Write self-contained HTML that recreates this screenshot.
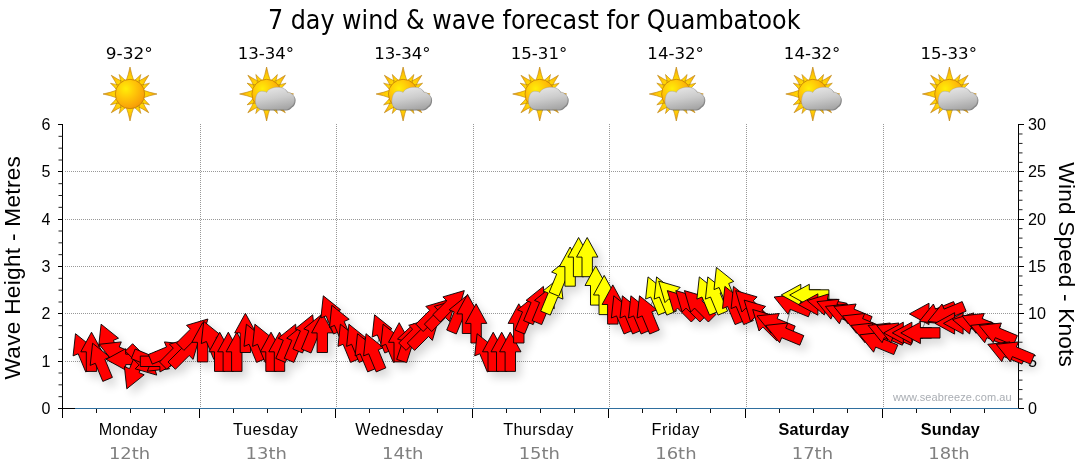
<!DOCTYPE html>
<html><head><meta charset="utf-8"><title>7 day wind &amp; wave forecast for Quambatook</title>
<style>
html,body{margin:0;padding:0;background:#fff;}
body{width:1080px;height:475px;overflow:hidden;}
svg{display:block;}
.ar{font-family:"Liberation Sans",sans-serif;}
.th{font-family:"DejaVu Sans Condensed","DejaVu Sans",sans-serif;}
.dv{font-family:"DejaVu Sans",sans-serif;}
</style></head><body>
<svg width="1080" height="475" viewBox="0 0 1080 475">
<defs>
<radialGradient id="sunG" cx="0.36" cy="0.32" r="0.78"><stop offset="0" stop-color="#ffee08"/><stop offset="0.4" stop-color="#ffc808"/><stop offset="0.8" stop-color="#f9a508"/><stop offset="1" stop-color="#ee9208"/></radialGradient>
<radialGradient id="rayG" gradientUnits="userSpaceOnUse" cx="0" cy="0" r="27"><stop offset="0.48" stop-color="#ffe000"/><stop offset="0.75" stop-color="#ffc408"/><stop offset="1" stop-color="#ee9812"/></radialGradient>
<linearGradient id="cloudG" x1="0.3" y1="0" x2="0.6" y2="1"><stop offset="0" stop-color="#e6e6e6"/><stop offset="0.5" stop-color="#cccccc"/><stop offset="1" stop-color="#a6a6a6"/></linearGradient>
<filter id="sh" x="-5%" y="-20%" width="110%" height="150%"><feGaussianBlur stdDeviation="5"/></filter>
<filter id="b1" x="-20%" y="-20%" width="140%" height="140%"><feGaussianBlur stdDeviation="0.6"/></filter>
<g id="sun"><path d="M13.00,3.90Q19.30,1.56 27.00,0.00Q19.30,-1.56 13.00,-3.90ZM6.43,11.95Q12.38,14.59 18.74,18.74Q14.59,12.38 11.95,6.43ZM9.87,9.01Q14.43,9.42 19.50,10.81Q15.63,7.25 12.87,3.59ZM3.59,12.87Q7.25,15.63 10.81,19.50Q9.42,14.43 9.01,9.87ZM-3.90,13.00Q-1.56,19.30 0.00,27.00Q1.56,19.30 3.90,13.00ZM-11.95,6.43Q-14.59,12.38 -18.74,18.74Q-12.38,14.59 -6.43,11.95ZM-9.01,9.87Q-9.42,14.43 -10.81,19.50Q-7.25,15.63 -3.59,12.87ZM-12.87,3.59Q-15.63,7.25 -19.50,10.81Q-14.43,9.42 -9.87,9.01ZM-13.00,-3.90Q-19.30,-1.56 -27.00,0.00Q-19.30,1.56 -13.00,3.90ZM-6.43,-11.95Q-12.38,-14.59 -18.74,-18.74Q-14.59,-12.38 -11.95,-6.43ZM-9.87,-9.01Q-14.43,-9.42 -19.50,-10.81Q-15.63,-7.25 -12.87,-3.59ZM-3.59,-12.87Q-7.25,-15.63 -10.81,-19.50Q-9.42,-14.43 -9.01,-9.87ZM3.90,-13.00Q1.56,-19.30 -0.00,-27.00Q-1.56,-19.30 -3.90,-13.00ZM11.95,-6.43Q14.59,-12.38 18.74,-18.74Q12.38,-14.59 6.43,-11.95ZM9.01,-9.87Q9.42,-14.43 10.81,-19.50Q7.25,-15.63 3.59,-12.87ZM12.87,-3.59Q15.63,-7.25 19.50,-10.81Q14.43,-9.42 9.87,-9.01Z" fill="url(#rayG)" stroke="#b8820c" stroke-width="0.6" stroke-linejoin="round"/><circle r="14.7" fill="url(#sunG)" stroke="#c47e06" stroke-width="0.8"/></g><g id="cloud"><path d="M-3.4,15.5 C-8.5,15.5 -11.4,11.5 -11.2,7 C-11,1 -8.5,-2.7 -5.2,-2.7 C-3,-2.7 -1,-2.5 0,-1.6 C2,-5.5 7,-6.9 11.7,-6.8 C16,-6.7 19.5,-5 20.8,-1.8 C22,-2 23.5,-1.5 24.5,-0.5 C27,1 28.3,3.5 28.1,5.8 C28,9 26.5,11.5 24.5,12.5 C23,14.5 21,15.5 19.2,15.5 Z" transform="translate(0.9,0.9)" fill="#5a5a5a" opacity="0.75" filter="url(#b1)"/><path d="M-3.4,15.5 C-8.5,15.5 -11.4,11.5 -11.2,7 C-11,1 -8.5,-2.7 -5.2,-2.7 C-3,-2.7 -1,-2.5 0,-1.6 C2,-5.5 7,-6.9 11.7,-6.8 C16,-6.7 19.5,-5 20.8,-1.8 C22,-2 23.5,-1.5 24.5,-0.5 C27,1 28.3,3.5 28.1,5.8 C28,9 26.5,11.5 24.5,12.5 C23,14.5 21,15.5 19.2,15.5 Z" fill="url(#cloudG)" stroke="#9a9a9a" stroke-width="0.4"/></g></defs>
<rect width="1080" height="475" fill="#fff"/>
<text class="th" x="268" y="29.3" font-size="25.8" textLength="532.5" lengthAdjust="spacingAndGlyphs" fill="#000">7 day wind &amp; wave forecast for Quambatook</text>
<text class="dv" x="129.3" y="58.9" font-size="16" text-anchor="middle" textLength="47.0" lengthAdjust="spacingAndGlyphs" fill="#000">9-32°</text>
<use href="#sun" x="130.0" y="94"/>
<text class="dv" x="265.9" y="58.9" font-size="16" text-anchor="middle" textLength="56.5" lengthAdjust="spacingAndGlyphs" fill="#000">13-34°</text>
<use href="#sun" x="266.6" y="94"/><use href="#cloud" x="266.6" y="94"/>
<text class="dv" x="402.4" y="58.9" font-size="16" text-anchor="middle" textLength="56.5" lengthAdjust="spacingAndGlyphs" fill="#000">13-34°</text>
<use href="#sun" x="403.1" y="94"/><use href="#cloud" x="403.1" y="94"/>
<text class="dv" x="539.0" y="58.9" font-size="16" text-anchor="middle" textLength="56.5" lengthAdjust="spacingAndGlyphs" fill="#000">15-31°</text>
<use href="#sun" x="539.7" y="94"/><use href="#cloud" x="539.7" y="94"/>
<text class="dv" x="675.6" y="58.9" font-size="16" text-anchor="middle" textLength="56.5" lengthAdjust="spacingAndGlyphs" fill="#000">14-32°</text>
<use href="#sun" x="676.3" y="94"/><use href="#cloud" x="676.3" y="94"/>
<text class="dv" x="812.1" y="58.9" font-size="16" text-anchor="middle" textLength="56.5" lengthAdjust="spacingAndGlyphs" fill="#000">14-32°</text>
<use href="#sun" x="812.8" y="94"/><use href="#cloud" x="812.8" y="94"/>
<text class="dv" x="948.7" y="58.9" font-size="16" text-anchor="middle" textLength="56.5" lengthAdjust="spacingAndGlyphs" fill="#000">15-33°</text>
<use href="#sun" x="949.4" y="94"/><use href="#cloud" x="949.4" y="94"/>
<g stroke="#989898" stroke-width="1" stroke-dasharray="1,1" shape-rendering="crispEdges"><line x1="64.5" y1="361.5" x2="1018.5" y2="361.5"/><line x1="64.5" y1="313.5" x2="1018.5" y2="313.5"/><line x1="64.5" y1="266.5" x2="1018.5" y2="266.5"/><line x1="64.5" y1="219.5" x2="1018.5" y2="219.5"/><line x1="64.5" y1="171.5" x2="1018.5" y2="171.5"/><line x1="200.5" y1="124.0" x2="200.5" y2="408.5"/><line x1="336.5" y1="124.0" x2="336.5" y2="408.5"/><line x1="473.5" y1="124.0" x2="473.5" y2="408.5"/><line x1="609.5" y1="124.0" x2="609.5" y2="408.5"/><line x1="746.5" y1="124.0" x2="746.5" y2="408.5"/><line x1="883.5" y1="124.0" x2="883.5" y2="408.5"/></g>
<g filter="url(#sh)" fill="#000" opacity="0.16" transform="translate(5,6)"><polygon points="75.5,333.7 92.9,347.7 87.8,349.8 95.3,367.9 85.7,371.9 78.2,353.8 73.1,355.9"/><polygon points="91.5,332.2 102.2,351.8 96.7,351.8 96.7,371.4 86.3,371.4 86.3,351.8 80.8,351.8"/><polygon points="92.6,343.2 110.0,357.2 104.9,359.3 112.4,377.4 102.8,381.4 95.3,363.3 90.2,365.4"/><polygon points="101.1,324.2 118.5,338.2 113.4,340.3 120.9,358.4 111.3,362.4 103.8,344.3 98.7,346.4"/><polygon points="99.1,344.3 121.3,341.9 119.2,347.0 137.3,354.5 133.3,364.1 115.2,356.6 113.1,361.7"/><polygon points="106.1,359.4 125.7,348.7 125.7,354.2 145.3,354.2 145.3,364.6 125.7,364.6 125.7,370.1"/><polygon points="126.8,388.8 124.4,366.6 129.5,368.7 137.0,350.6 146.6,354.6 139.1,372.7 144.2,374.8"/><polygon points="156.7,375.1 135.2,368.8 139.1,364.9 125.3,351.1 132.6,343.7 146.5,357.6 150.4,353.7"/><polygon points="169.5,368.8 147.3,371.2 149.4,366.1 131.3,358.6 135.2,349.0 153.3,356.5 155.5,351.4"/><polygon points="179.5,361.3 159.9,372.0 159.9,366.5 140.3,366.5 140.3,356.1 159.9,356.1 159.9,350.6"/><polygon points="186.6,344.3 172.5,361.7 170.4,356.6 152.3,364.1 148.4,354.5 166.5,347.0 164.4,341.9"/><polygon points="190.9,337.9 184.6,359.4 180.7,355.5 166.8,369.3 159.5,362.0 173.3,348.1 169.4,344.2"/><polygon points="199.4,337.9 193.1,359.4 189.2,355.5 175.4,369.3 168.0,362.0 181.9,348.1 178.0,344.2"/><polygon points="207.9,319.0 201.7,340.4 197.8,336.5 183.9,350.4 176.5,343.0 190.4,329.2 186.5,325.3"/><polygon points="202.6,322.7 213.3,342.3 207.8,342.3 207.8,361.9 197.4,361.9 197.4,342.3 191.9,342.3"/><polygon points="203.7,321.4 221.1,335.4 216.0,337.5 223.5,355.6 213.9,359.6 206.4,341.5 201.3,343.6"/><polygon points="219.7,332.2 230.4,351.8 224.9,351.8 224.9,371.4 214.5,371.4 214.5,351.8 209.0,351.8"/><polygon points="228.3,332.2 239.0,351.8 233.5,351.8 233.5,371.4 223.1,371.4 223.1,351.8 217.6,351.8"/><polygon points="236.8,332.2 247.5,351.8 242.0,351.8 242.0,371.4 231.6,371.4 231.6,351.8 226.1,351.8"/><polygon points="245.4,313.3 256.1,332.9 250.6,332.9 250.6,352.5 240.2,352.5 240.2,332.9 234.7,332.9"/><polygon points="246.4,324.2 263.8,338.2 258.7,340.3 266.2,358.4 256.6,362.4 249.1,344.3 244.0,346.4"/><polygon points="254.9,324.2 272.3,338.2 267.2,340.3 274.7,358.4 265.1,362.4 257.6,344.3 252.6,346.4"/><polygon points="271.0,332.2 281.7,351.8 276.2,351.8 276.2,371.4 265.8,371.4 265.8,351.8 260.3,351.8"/><polygon points="279.5,332.2 290.2,351.8 284.7,351.8 284.7,371.4 274.3,371.4 274.3,351.8 268.8,351.8"/><polygon points="295.6,324.2 298.0,346.4 292.9,344.3 285.4,362.4 275.8,358.4 283.3,340.3 278.2,338.2"/><polygon points="304.1,324.2 306.5,346.4 301.4,344.3 293.9,362.4 284.3,358.4 291.8,340.3 286.7,338.2"/><polygon points="312.7,314.8 315.1,337.0 310.0,334.9 302.5,353.0 292.9,349.0 300.4,330.9 295.3,328.8"/><polygon points="321.2,314.8 323.6,337.0 318.5,334.9 311.0,353.0 301.4,349.0 308.9,330.9 303.8,328.8"/><polygon points="322.3,313.3 333.0,332.9 327.5,332.9 327.5,352.5 317.1,352.5 317.1,332.9 311.6,332.9"/><polygon points="323.3,295.8 340.7,309.8 335.6,311.9 343.1,330.0 333.5,334.0 326.0,315.9 320.9,318.0"/><polygon points="331.8,305.3 349.2,319.3 344.2,321.4 351.7,339.5 342.0,343.5 334.5,325.4 329.5,327.5"/><polygon points="340.4,324.2 357.8,338.2 352.7,340.3 360.2,358.4 350.6,362.4 343.1,344.3 338.0,346.4"/><polygon points="348.9,324.2 366.3,338.2 361.2,340.3 368.7,358.4 359.1,362.4 351.6,344.3 346.6,346.4"/><polygon points="357.5,333.7 374.9,347.7 369.8,349.8 377.3,367.9 367.7,371.9 360.2,353.8 355.1,355.9"/><polygon points="366.0,333.7 383.4,347.7 378.3,349.8 385.8,367.9 376.2,371.9 368.7,353.8 363.6,355.9"/><polygon points="374.6,314.8 392.0,328.8 386.9,330.9 394.4,349.0 384.8,353.0 377.3,334.9 372.2,337.0"/><polygon points="383.1,324.2 400.5,338.2 395.4,340.3 402.9,358.4 393.3,362.4 385.8,344.3 380.7,346.4"/><polygon points="399.2,322.7 409.9,342.3 404.4,342.3 404.4,361.9 394.0,361.9 394.0,342.3 388.5,342.3"/><polygon points="413.8,323.7 417.9,345.6 412.7,343.9 406.6,362.6 396.7,359.4 402.8,340.7 397.5,339.0"/><polygon points="430.1,319.0 423.8,340.4 419.9,336.5 406.1,350.4 398.7,343.0 412.6,329.2 408.7,325.3"/><polygon points="438.7,319.0 432.4,340.4 428.5,336.5 414.6,350.4 407.3,343.0 421.1,329.2 417.2,325.3"/><polygon points="447.2,300.1 440.9,321.5 437.0,317.6 423.2,331.5 415.8,324.1 429.7,310.3 425.8,306.4"/><polygon points="455.7,300.1 449.5,321.5 445.6,317.6 431.7,331.5 424.4,324.1 438.2,310.3 434.3,306.4"/><polygon points="464.3,290.6 458.0,312.0 454.1,308.1 440.3,322.0 432.9,314.6 446.8,300.8 442.9,296.9"/><polygon points="466.5,295.8 468.9,318.0 463.8,315.9 456.3,334.0 446.7,330.0 454.2,311.9 449.1,309.8"/><polygon points="467.5,294.3 478.2,313.9 472.7,313.9 472.7,333.5 462.3,333.5 462.3,313.9 456.8,313.9"/><polygon points="476.1,303.8 486.8,323.4 481.3,323.4 481.3,343.0 470.9,343.0 470.9,323.4 465.4,323.4"/><polygon points="477.1,333.7 494.5,347.7 489.4,349.8 496.9,367.9 487.3,371.9 479.8,353.8 474.7,355.9"/><polygon points="493.2,332.2 503.9,351.8 498.4,351.8 498.4,371.4 488.0,371.4 488.0,351.8 482.5,351.8"/><polygon points="501.7,332.2 512.4,351.8 506.9,351.8 506.9,371.4 496.5,371.4 496.5,351.8 491.0,351.8"/><polygon points="510.2,332.2 521.0,351.8 515.5,351.8 515.5,371.4 505.1,371.4 505.1,351.8 499.6,351.8"/><polygon points="518.8,303.8 529.5,323.4 524.0,323.4 524.0,343.0 513.6,343.0 513.6,323.4 508.1,323.4"/><polygon points="534.8,295.8 537.2,318.0 532.1,315.9 524.6,334.0 515.0,330.0 522.5,311.9 517.5,309.8"/><polygon points="543.4,286.4 545.8,308.6 540.7,306.5 533.2,324.6 523.6,320.6 531.1,302.5 526.0,300.4"/><polygon points="551.9,286.4 554.3,308.6 549.2,306.5 541.7,324.6 532.1,320.6 539.6,302.5 534.5,300.4"/><polygon points="560.5,276.9 562.9,299.1 557.8,297.0 550.3,315.1 540.7,311.1 548.2,293.0 543.1,290.9"/><polygon points="569.0,258.0 571.4,280.2 566.3,278.1 558.8,296.2 549.2,292.2 556.7,274.1 551.6,272.0"/><polygon points="570.1,247.0 580.8,266.6 575.3,266.6 575.3,286.2 564.9,286.2 564.9,266.6 559.4,266.6"/><polygon points="578.6,237.5 589.3,257.1 583.8,257.1 583.8,276.7 573.4,276.7 573.4,257.1 567.9,257.1"/><polygon points="587.2,237.5 597.9,257.1 592.4,257.1 592.4,276.7 582.0,276.7 582.0,257.1 576.5,257.1"/><polygon points="595.7,265.9 606.4,285.5 600.9,285.5 600.9,305.1 590.5,305.1 590.5,285.5 585.0,285.5"/><polygon points="604.2,275.4 614.9,295.0 609.4,295.0 609.4,314.6 599.0,314.6 599.0,295.0 593.5,295.0"/><polygon points="612.8,284.9 623.5,304.5 618.0,304.5 618.0,324.1 607.6,324.1 607.6,304.5 602.1,304.5"/><polygon points="613.8,295.8 631.2,309.8 626.1,311.9 633.6,330.0 624.0,334.0 616.5,315.9 611.4,318.0"/><polygon points="622.4,295.8 639.8,309.8 634.7,311.9 642.2,330.0 632.6,334.0 625.1,315.9 620.0,318.0"/><polygon points="630.9,295.8 648.3,309.8 643.2,311.9 650.7,330.0 641.1,334.0 633.6,315.9 628.5,318.0"/><polygon points="639.5,295.8 656.9,309.8 651.8,311.9 659.3,330.0 649.7,334.0 642.2,315.9 637.1,318.0"/><polygon points="648.0,276.9 665.4,290.9 660.3,293.0 667.8,311.1 658.2,315.1 650.7,297.0 645.6,299.1"/><polygon points="656.6,276.9 673.9,290.9 668.9,293.0 676.4,311.1 666.8,315.1 659.3,297.0 654.2,299.1"/><polygon points="658.7,281.1 680.2,287.4 676.3,291.3 690.1,305.2 682.8,312.5 668.9,298.7 665.0,302.6"/><polygon points="667.3,290.6 688.7,296.9 684.8,300.8 698.7,314.6 691.3,322.0 677.5,308.1 673.6,312.0"/><polygon points="675.8,290.6 697.3,296.9 693.4,300.8 707.2,314.6 699.9,322.0 686.0,308.1 682.1,312.0"/><polygon points="684.4,290.6 705.8,296.9 701.9,300.8 715.8,314.6 708.4,322.0 694.6,308.1 690.7,312.0"/><polygon points="699.3,276.9 716.7,290.9 711.6,293.0 719.1,311.1 709.5,315.1 702.0,297.0 696.9,299.1"/><polygon points="707.8,276.9 725.2,290.9 720.1,293.0 727.6,311.1 718.0,315.1 710.5,297.0 705.4,299.1"/><polygon points="716.4,267.4 733.8,281.4 728.7,283.5 736.2,301.6 726.6,305.6 719.1,287.5 714.0,289.6"/><polygon points="724.9,286.4 742.3,300.4 737.2,302.5 744.7,320.6 735.1,324.6 727.6,306.5 722.5,308.6"/><polygon points="733.5,286.4 750.9,300.4 745.8,302.5 753.3,320.6 743.7,324.6 736.2,306.5 731.1,308.6"/><polygon points="735.7,290.6 757.1,296.9 753.2,300.8 767.0,314.6 759.7,322.0 745.8,308.1 741.9,312.0"/><polygon points="744.2,300.1 765.6,306.4 761.7,310.3 775.6,324.1 768.2,331.5 754.4,317.6 750.5,321.5"/><polygon points="752.7,309.5 774.2,315.8 770.3,319.7 784.1,333.6 776.8,340.9 762.9,327.1 759.0,331.0"/><polygon points="757.0,315.9 779.2,313.5 777.1,318.6 795.2,326.1 791.3,335.7 773.2,328.2 771.1,333.3"/><polygon points="765.6,325.4 787.8,323.0 785.7,328.1 803.8,335.6 799.8,345.2 781.7,337.7 779.6,342.7"/><polygon points="774.1,297.0 796.3,294.6 794.2,299.7 812.3,307.2 808.4,316.8 790.2,309.3 788.1,314.3"/><polygon points="781.2,295.0 800.8,284.3 800.8,289.8 820.4,289.8 820.4,300.2 800.8,300.2 800.8,305.7"/><polygon points="789.7,295.0 809.3,284.3 809.3,289.8 828.9,289.8 828.9,300.2 809.3,300.2 809.3,305.7"/><polygon points="798.3,304.5 817.9,293.8 817.9,299.3 837.5,299.3 837.5,309.7 817.9,309.7 817.9,315.2"/><polygon points="807.2,300.6 828.5,294.0 827.4,299.4 846.7,303.2 844.6,313.4 825.4,309.6 824.3,315.0"/><polygon points="816.9,301.7 839.1,299.3 836.9,304.4 855.1,311.9 851.1,321.5 833.0,314.0 830.9,319.1"/><polygon points="825.4,306.4 847.6,304.0 845.5,309.1 863.6,316.6 859.6,326.2 841.5,318.7 839.4,323.8"/><polygon points="833.9,306.4 856.1,304.0 854.0,309.1 872.1,316.6 868.2,326.2 850.1,318.7 848.0,323.8"/><polygon points="842.5,315.9 864.7,313.5 862.6,318.6 880.7,326.1 876.7,335.7 858.6,328.2 856.5,333.3"/><polygon points="851.0,325.4 873.2,323.0 871.1,328.1 889.2,335.6 885.3,345.2 867.2,337.7 865.0,342.7"/><polygon points="859.6,334.8 881.8,332.4 879.7,337.5 897.8,345.0 893.8,354.6 875.7,347.1 873.6,352.2"/><polygon points="868.1,325.4 890.3,323.0 888.2,328.1 906.3,335.6 902.3,345.2 884.2,337.7 882.1,342.7"/><polygon points="876.7,325.4 898.9,323.0 896.8,328.1 914.9,335.6 910.9,345.2 892.8,337.7 890.7,342.7"/><polygon points="883.7,332.9 903.3,322.2 903.3,327.7 922.9,327.7 922.9,338.1 903.3,338.1 903.3,343.6"/><polygon points="892.3,332.9 911.9,322.2 911.9,327.7 931.5,327.7 931.5,338.1 911.9,338.1 911.9,343.6"/><polygon points="900.8,332.9 920.4,322.2 920.4,327.7 940.0,327.7 940.0,338.1 920.4,338.1 920.4,343.6"/><polygon points="909.4,313.9 929.0,303.2 929.0,308.7 948.6,308.7 948.6,319.1 929.0,319.1 929.0,324.6"/><polygon points="919.4,321.4 933.4,304.0 935.5,309.1 953.6,301.6 957.6,311.2 939.5,318.7 941.6,323.8"/><polygon points="927.9,321.4 942.0,304.0 944.1,309.1 962.2,301.6 966.1,311.2 948.0,318.7 950.1,323.8"/><polygon points="935.0,323.4 954.6,312.7 954.6,318.2 974.2,318.2 974.2,328.6 954.6,328.6 954.6,334.1"/><polygon points="943.5,323.4 963.1,312.7 963.1,318.2 982.7,318.2 982.7,328.6 963.1,328.6 963.1,334.1"/><polygon points="952.5,319.6 973.8,312.9 972.7,318.3 991.9,322.1 989.9,332.3 970.7,328.5 969.6,333.9"/><polygon points="962.1,315.9 984.3,313.5 982.2,318.6 1000.3,326.1 996.3,335.7 978.2,328.2 976.1,333.3"/><polygon points="970.7,325.4 992.9,323.0 990.8,328.1 1008.9,335.6 1004.9,345.2 986.8,337.7 984.7,342.7"/><polygon points="979.2,325.4 1001.4,323.0 999.3,328.1 1017.4,335.6 1013.4,345.2 995.3,337.7 993.2,342.7"/><polygon points="987.8,344.3 1010.0,341.9 1007.8,347.0 1026.0,354.5 1022.0,364.1 1003.9,356.6 1001.8,361.7"/><polygon points="996.3,344.3 1018.5,341.9 1016.4,347.0 1034.5,354.5 1030.5,364.1 1012.4,356.6 1010.3,361.7"/></g>
<g stroke="#000" stroke-width="1" shape-rendering="crispEdges"><line x1="62.5" y1="124.0" x2="62.5" y2="409.0"/><line x1="1018.5" y1="124.0" x2="1018.5" y2="409.0"/><line x1="57.5" y1="408.5" x2="1023.5" y2="408.5"/><line x1="57.5" y1="408.5" x2="62.5" y2="408.5"/><line x1="1018.5" y1="408.5" x2="1023.5" y2="408.5"/><line x1="57.5" y1="361.5" x2="62.5" y2="361.5"/><line x1="1018.5" y1="361.5" x2="1023.5" y2="361.5"/><line x1="57.5" y1="313.5" x2="62.5" y2="313.5"/><line x1="1018.5" y1="313.5" x2="1023.5" y2="313.5"/><line x1="57.5" y1="266.5" x2="62.5" y2="266.5"/><line x1="1018.5" y1="266.5" x2="1023.5" y2="266.5"/><line x1="57.5" y1="219.5" x2="62.5" y2="219.5"/><line x1="1018.5" y1="219.5" x2="1023.5" y2="219.5"/><line x1="57.5" y1="171.5" x2="62.5" y2="171.5"/><line x1="1018.5" y1="171.5" x2="1023.5" y2="171.5"/><line x1="57.5" y1="124.5" x2="62.5" y2="124.5"/><line x1="1018.5" y1="124.5" x2="1023.5" y2="124.5"/><line x1="62.5" y1="408.5" x2="62.5" y2="417.5"/><line x1="199.5" y1="408.5" x2="199.5" y2="417.5"/><line x1="335.5" y1="408.5" x2="335.5" y2="417.5"/><line x1="472.5" y1="408.5" x2="472.5" y2="417.5"/><line x1="608.5" y1="408.5" x2="608.5" y2="417.5"/><line x1="745.5" y1="408.5" x2="745.5" y2="417.5"/><line x1="882.5" y1="408.5" x2="882.5" y2="417.5"/></g>
<g stroke="#222" stroke-width="1"><line x1="58.5" y1="396.67" x2="62.5" y2="396.67"/><line x1="58.5" y1="384.83" x2="62.5" y2="384.83"/><line x1="58.5" y1="373.00" x2="62.5" y2="373.00"/><line x1="58.5" y1="349.33" x2="62.5" y2="349.33"/><line x1="58.5" y1="337.50" x2="62.5" y2="337.50"/><line x1="58.5" y1="325.67" x2="62.5" y2="325.67"/><line x1="58.5" y1="302.00" x2="62.5" y2="302.00"/><line x1="58.5" y1="290.17" x2="62.5" y2="290.17"/><line x1="58.5" y1="278.33" x2="62.5" y2="278.33"/><line x1="58.5" y1="254.67" x2="62.5" y2="254.67"/><line x1="58.5" y1="242.83" x2="62.5" y2="242.83"/><line x1="58.5" y1="231.00" x2="62.5" y2="231.00"/><line x1="58.5" y1="207.33" x2="62.5" y2="207.33"/><line x1="58.5" y1="195.50" x2="62.5" y2="195.50"/><line x1="58.5" y1="183.67" x2="62.5" y2="183.67"/><line x1="58.5" y1="160.00" x2="62.5" y2="160.00"/><line x1="58.5" y1="148.17" x2="62.5" y2="148.17"/><line x1="58.5" y1="136.33" x2="62.5" y2="136.33"/><line x1="1018.5" y1="399.03" x2="1022.5" y2="399.03"/><line x1="1018.5" y1="389.57" x2="1022.5" y2="389.57"/><line x1="1018.5" y1="380.10" x2="1022.5" y2="380.10"/><line x1="1018.5" y1="370.63" x2="1022.5" y2="370.63"/><line x1="1018.5" y1="351.70" x2="1022.5" y2="351.70"/><line x1="1018.5" y1="342.23" x2="1022.5" y2="342.23"/><line x1="1018.5" y1="332.77" x2="1022.5" y2="332.77"/><line x1="1018.5" y1="323.30" x2="1022.5" y2="323.30"/><line x1="1018.5" y1="304.37" x2="1022.5" y2="304.37"/><line x1="1018.5" y1="294.90" x2="1022.5" y2="294.90"/><line x1="1018.5" y1="285.43" x2="1022.5" y2="285.43"/><line x1="1018.5" y1="275.97" x2="1022.5" y2="275.97"/><line x1="1018.5" y1="257.03" x2="1022.5" y2="257.03"/><line x1="1018.5" y1="247.57" x2="1022.5" y2="247.57"/><line x1="1018.5" y1="238.10" x2="1022.5" y2="238.10"/><line x1="1018.5" y1="228.63" x2="1022.5" y2="228.63"/><line x1="1018.5" y1="209.70" x2="1022.5" y2="209.70"/><line x1="1018.5" y1="200.23" x2="1022.5" y2="200.23"/><line x1="1018.5" y1="190.77" x2="1022.5" y2="190.77"/><line x1="1018.5" y1="181.30" x2="1022.5" y2="181.30"/><line x1="1018.5" y1="162.37" x2="1022.5" y2="162.37"/><line x1="1018.5" y1="152.90" x2="1022.5" y2="152.90"/><line x1="1018.5" y1="143.43" x2="1022.5" y2="143.43"/><line x1="1018.5" y1="133.97" x2="1022.5" y2="133.97"/></g>
<g stroke="#111" stroke-width="1" shape-rendering="crispEdges"><line x1="96.5" y1="408.5" x2="96.5" y2="413.0"/><line x1="130.5" y1="408.5" x2="130.5" y2="413.0"/><line x1="164.5" y1="408.5" x2="164.5" y2="413.0"/><line x1="233.5" y1="408.5" x2="233.5" y2="413.0"/><line x1="267.5" y1="408.5" x2="267.5" y2="413.0"/><line x1="301.5" y1="408.5" x2="301.5" y2="413.0"/><line x1="369.5" y1="408.5" x2="369.5" y2="413.0"/><line x1="403.5" y1="408.5" x2="403.5" y2="413.0"/><line x1="437.5" y1="408.5" x2="437.5" y2="413.0"/><line x1="506.5" y1="408.5" x2="506.5" y2="413.0"/><line x1="540.5" y1="408.5" x2="540.5" y2="413.0"/><line x1="574.5" y1="408.5" x2="574.5" y2="413.0"/><line x1="642.5" y1="408.5" x2="642.5" y2="413.0"/><line x1="676.5" y1="408.5" x2="676.5" y2="413.0"/><line x1="710.5" y1="408.5" x2="710.5" y2="413.0"/><line x1="779.5" y1="408.5" x2="779.5" y2="413.0"/><line x1="813.5" y1="408.5" x2="813.5" y2="413.0"/><line x1="847.5" y1="408.5" x2="847.5" y2="413.0"/><line x1="916.5" y1="408.5" x2="916.5" y2="413.0"/><line x1="950.5" y1="408.5" x2="950.5" y2="413.0"/><line x1="984.5" y1="408.5" x2="984.5" y2="413.0"/></g>
<line x1="75" y1="408.5" x2="1018.5" y2="408.5" stroke="#2f6f9f" stroke-width="1.2"/>
<text class="ar" x="50.3" y="413.9" font-size="16" text-anchor="end">0</text><text class="ar" x="1028" y="413.9" font-size="16.2">0</text><text class="ar" x="50.3" y="366.6" font-size="16" text-anchor="end">1</text><text class="ar" x="1028" y="366.6" font-size="16.2">5</text><text class="ar" x="50.3" y="319.2" font-size="16" text-anchor="end">2</text><text class="ar" x="1028" y="319.2" font-size="16.2">10</text><text class="ar" x="50.3" y="271.9" font-size="16" text-anchor="end">3</text><text class="ar" x="1028" y="271.9" font-size="16.2">15</text><text class="ar" x="50.3" y="224.6" font-size="16" text-anchor="end">4</text><text class="ar" x="1028" y="224.6" font-size="16.2">20</text><text class="ar" x="50.3" y="177.2" font-size="16" text-anchor="end">5</text><text class="ar" x="1028" y="177.2" font-size="16.2">25</text><text class="ar" x="50.3" y="129.9" font-size="16" text-anchor="end">6</text><text class="ar" x="1028" y="129.9" font-size="16.2">30</text>
<text class="ar" font-size="22.67" text-anchor="middle" textLength="223.5" lengthAdjust="spacing" transform="translate(20.3,267.8) rotate(-90)">Wave Height - Metres</text>
<text class="ar" font-size="22.67" text-anchor="middle" textLength="204.5" lengthAdjust="spacing" transform="translate(1058.8,264.6) rotate(90)">Wind Speed - Knots</text>
<text class="ar" x="128.1" y="434.6" font-size="16.2" text-anchor="middle" textLength="58.6" lengthAdjust="spacing">Monday</text><text class="dv" x="129.6" y="458.5" font-size="16.2" text-anchor="middle" textLength="41.3" lengthAdjust="spacingAndGlyphs" fill="#808080">12th</text>
<text class="ar" x="265.5" y="434.6" font-size="16.2" text-anchor="middle" textLength="64.9" lengthAdjust="spacing">Tuesday</text><text class="dv" x="266.2" y="458.5" font-size="16.2" text-anchor="middle" textLength="41.3" lengthAdjust="spacingAndGlyphs" fill="#808080">13th</text>
<text class="ar" x="399.2" y="434.6" font-size="16.2" text-anchor="middle" textLength="87.7" lengthAdjust="spacing">Wednesday</text><text class="dv" x="402.7" y="458.5" font-size="16.2" text-anchor="middle" textLength="41.3" lengthAdjust="spacingAndGlyphs" fill="#808080">14th</text>
<text class="ar" x="538.3" y="434.6" font-size="16.2" text-anchor="middle" textLength="70.2" lengthAdjust="spacing">Thursday</text><text class="dv" x="539.3" y="458.5" font-size="16.2" text-anchor="middle" textLength="41.3" lengthAdjust="spacingAndGlyphs" fill="#808080">15th</text>
<text class="ar" x="675.4" y="434.6" font-size="16.2" text-anchor="middle" textLength="47.9" lengthAdjust="spacing">Friday</text><text class="dv" x="675.9" y="458.5" font-size="16.2" text-anchor="middle" textLength="41.3" lengthAdjust="spacingAndGlyphs" fill="#808080">16th</text>
<text class="ar" x="813.9" y="434.6" font-size="16.2" text-anchor="middle" textLength="70.8" lengthAdjust="spacing" font-weight="bold">Saturday</text><text class="dv" x="812.4" y="458.5" font-size="16.2" text-anchor="middle" textLength="41.3" lengthAdjust="spacingAndGlyphs" fill="#808080">17th</text>
<text class="ar" x="950.3" y="434.6" font-size="16.2" text-anchor="middle" textLength="59.0" lengthAdjust="spacing" font-weight="bold">Sunday</text><text class="dv" x="949.0" y="458.5" font-size="16.2" text-anchor="middle" textLength="41.3" lengthAdjust="spacingAndGlyphs" fill="#808080">18th</text>
<text class="ar" x="893" y="401" font-size="11" textLength="118.7" lengthAdjust="spacing" fill="#a9adb3">www.seabreeze.com.au</text>
<polyline points="83.0,351.8 91.5,351.8 100.1,361.3 108.6,342.3 117.2,351.8 125.7,359.4 134.3,370.7 142.8,361.3 151.4,361.3 159.9,361.3 168.4,351.8 177.0,351.8 185.5,351.8 194.1,332.9 202.6,342.3 211.2,339.5 219.7,351.8 228.3,351.8 236.8,351.8 245.4,332.9 253.9,342.3 262.4,342.3 271.0,351.8 279.5,351.8 288.1,342.3 296.6,342.3 305.2,332.9 313.7,332.9 322.3,332.9 330.8,313.9 339.4,323.4 347.9,342.3 356.4,342.3 365.0,351.8 373.5,351.8 382.1,332.9 390.6,342.3 399.2,342.3 407.7,342.3 416.3,332.9 424.8,332.9 433.3,313.9 441.9,313.9 450.4,304.5 459.0,313.9 467.5,313.9 476.1,323.4 484.6,351.8 493.2,351.8 501.7,351.8 510.2,351.8 518.8,323.4 527.3,313.9 535.9,304.5 544.4,304.5 553.0,295.0 561.5,276.1 570.1,266.6 578.6,257.1 587.2,257.1 595.7,285.5 604.2,295.0 612.8,304.5 621.3,313.9 629.9,313.9 638.4,313.9 647.0,313.9 655.5,295.0 664.1,295.0 672.6,295.0 681.1,304.5 689.7,304.5 698.2,304.5 706.8,295.0 715.3,295.0 723.9,285.5 732.4,304.5 741.0,304.5 749.5,304.5 758.1,313.9 766.6,323.4 775.1,323.4 783.7,332.9 792.2,304.5 800.8,295.0 809.3,295.0 817.9,304.5 826.4,304.5 835.0,309.2 843.5,313.9 852.0,313.9 860.6,323.4 869.1,332.9 877.7,342.3 886.2,332.9 894.8,332.9 903.3,332.9 911.9,332.9 920.4,332.9 929.0,313.9 937.5,313.9 946.0,313.9 954.6,323.4 963.1,323.4 971.7,323.4 980.2,323.4 988.8,332.9 997.3,332.9 1005.9,351.8 1014.4,351.8" fill="none" stroke="#7a7a7a" stroke-width="1"/><g stroke="#000" stroke-width="0.9" stroke-linejoin="miter"><polygon points="75.5,333.7 92.9,347.7 87.8,349.8 95.3,367.9 85.7,371.9 78.2,353.8 73.1,355.9" fill="#ff0000"/><polygon points="91.5,332.2 102.2,351.8 96.7,351.8 96.7,371.4 86.3,371.4 86.3,351.8 80.8,351.8" fill="#ff0000"/><polygon points="92.6,343.2 110.0,357.2 104.9,359.3 112.4,377.4 102.8,381.4 95.3,363.3 90.2,365.4" fill="#ff0000"/><polygon points="101.1,324.2 118.5,338.2 113.4,340.3 120.9,358.4 111.3,362.4 103.8,344.3 98.7,346.4" fill="#ff0000"/><polygon points="99.1,344.3 121.3,341.9 119.2,347.0 137.3,354.5 133.3,364.1 115.2,356.6 113.1,361.7" fill="#ff0000"/><polygon points="106.1,359.4 125.7,348.7 125.7,354.2 145.3,354.2 145.3,364.6 125.7,364.6 125.7,370.1" fill="#ff0000"/><polygon points="126.8,388.8 124.4,366.6 129.5,368.7 137.0,350.6 146.6,354.6 139.1,372.7 144.2,374.8" fill="#ff0000"/><polygon points="156.7,375.1 135.2,368.8 139.1,364.9 125.3,351.1 132.6,343.7 146.5,357.6 150.4,353.7" fill="#ff0000"/><polygon points="169.5,368.8 147.3,371.2 149.4,366.1 131.3,358.6 135.2,349.0 153.3,356.5 155.5,351.4" fill="#ff0000"/><polygon points="179.5,361.3 159.9,372.0 159.9,366.5 140.3,366.5 140.3,356.1 159.9,356.1 159.9,350.6" fill="#ff0000"/><polygon points="186.6,344.3 172.5,361.7 170.4,356.6 152.3,364.1 148.4,354.5 166.5,347.0 164.4,341.9" fill="#ff0000"/><polygon points="190.9,337.9 184.6,359.4 180.7,355.5 166.8,369.3 159.5,362.0 173.3,348.1 169.4,344.2" fill="#ff0000"/><polygon points="199.4,337.9 193.1,359.4 189.2,355.5 175.4,369.3 168.0,362.0 181.9,348.1 178.0,344.2" fill="#ff0000"/><polygon points="207.9,319.0 201.7,340.4 197.8,336.5 183.9,350.4 176.5,343.0 190.4,329.2 186.5,325.3" fill="#ff0000"/><polygon points="202.6,322.7 213.3,342.3 207.8,342.3 207.8,361.9 197.4,361.9 197.4,342.3 191.9,342.3" fill="#ff0000"/><polygon points="203.7,321.4 221.1,335.4 216.0,337.5 223.5,355.6 213.9,359.6 206.4,341.5 201.3,343.6" fill="#ff0000"/><polygon points="219.7,332.2 230.4,351.8 224.9,351.8 224.9,371.4 214.5,371.4 214.5,351.8 209.0,351.8" fill="#ff0000"/><polygon points="228.3,332.2 239.0,351.8 233.5,351.8 233.5,371.4 223.1,371.4 223.1,351.8 217.6,351.8" fill="#ff0000"/><polygon points="236.8,332.2 247.5,351.8 242.0,351.8 242.0,371.4 231.6,371.4 231.6,351.8 226.1,351.8" fill="#ff0000"/><polygon points="245.4,313.3 256.1,332.9 250.6,332.9 250.6,352.5 240.2,352.5 240.2,332.9 234.7,332.9" fill="#ff0000"/><polygon points="246.4,324.2 263.8,338.2 258.7,340.3 266.2,358.4 256.6,362.4 249.1,344.3 244.0,346.4" fill="#ff0000"/><polygon points="254.9,324.2 272.3,338.2 267.2,340.3 274.7,358.4 265.1,362.4 257.6,344.3 252.6,346.4" fill="#ff0000"/><polygon points="271.0,332.2 281.7,351.8 276.2,351.8 276.2,371.4 265.8,371.4 265.8,351.8 260.3,351.8" fill="#ff0000"/><polygon points="279.5,332.2 290.2,351.8 284.7,351.8 284.7,371.4 274.3,371.4 274.3,351.8 268.8,351.8" fill="#ff0000"/><polygon points="295.6,324.2 298.0,346.4 292.9,344.3 285.4,362.4 275.8,358.4 283.3,340.3 278.2,338.2" fill="#ff0000"/><polygon points="304.1,324.2 306.5,346.4 301.4,344.3 293.9,362.4 284.3,358.4 291.8,340.3 286.7,338.2" fill="#ff0000"/><polygon points="312.7,314.8 315.1,337.0 310.0,334.9 302.5,353.0 292.9,349.0 300.4,330.9 295.3,328.8" fill="#ff0000"/><polygon points="321.2,314.8 323.6,337.0 318.5,334.9 311.0,353.0 301.4,349.0 308.9,330.9 303.8,328.8" fill="#ff0000"/><polygon points="322.3,313.3 333.0,332.9 327.5,332.9 327.5,352.5 317.1,352.5 317.1,332.9 311.6,332.9" fill="#ff0000"/><polygon points="323.3,295.8 340.7,309.8 335.6,311.9 343.1,330.0 333.5,334.0 326.0,315.9 320.9,318.0" fill="#ff0000"/><polygon points="331.8,305.3 349.2,319.3 344.2,321.4 351.7,339.5 342.0,343.5 334.5,325.4 329.5,327.5" fill="#ff0000"/><polygon points="340.4,324.2 357.8,338.2 352.7,340.3 360.2,358.4 350.6,362.4 343.1,344.3 338.0,346.4" fill="#ff0000"/><polygon points="348.9,324.2 366.3,338.2 361.2,340.3 368.7,358.4 359.1,362.4 351.6,344.3 346.6,346.4" fill="#ff0000"/><polygon points="357.5,333.7 374.9,347.7 369.8,349.8 377.3,367.9 367.7,371.9 360.2,353.8 355.1,355.9" fill="#ff0000"/><polygon points="366.0,333.7 383.4,347.7 378.3,349.8 385.8,367.9 376.2,371.9 368.7,353.8 363.6,355.9" fill="#ff0000"/><polygon points="374.6,314.8 392.0,328.8 386.9,330.9 394.4,349.0 384.8,353.0 377.3,334.9 372.2,337.0" fill="#ff0000"/><polygon points="383.1,324.2 400.5,338.2 395.4,340.3 402.9,358.4 393.3,362.4 385.8,344.3 380.7,346.4" fill="#ff0000"/><polygon points="399.2,322.7 409.9,342.3 404.4,342.3 404.4,361.9 394.0,361.9 394.0,342.3 388.5,342.3" fill="#ff0000"/><polygon points="413.8,323.7 417.9,345.6 412.7,343.9 406.6,362.6 396.7,359.4 402.8,340.7 397.5,339.0" fill="#ff0000"/><polygon points="430.1,319.0 423.8,340.4 419.9,336.5 406.1,350.4 398.7,343.0 412.6,329.2 408.7,325.3" fill="#ff0000"/><polygon points="438.7,319.0 432.4,340.4 428.5,336.5 414.6,350.4 407.3,343.0 421.1,329.2 417.2,325.3" fill="#ff0000"/><polygon points="447.2,300.1 440.9,321.5 437.0,317.6 423.2,331.5 415.8,324.1 429.7,310.3 425.8,306.4" fill="#ff0000"/><polygon points="455.7,300.1 449.5,321.5 445.6,317.6 431.7,331.5 424.4,324.1 438.2,310.3 434.3,306.4" fill="#ff0000"/><polygon points="464.3,290.6 458.0,312.0 454.1,308.1 440.3,322.0 432.9,314.6 446.8,300.8 442.9,296.9" fill="#ff0000"/><polygon points="466.5,295.8 468.9,318.0 463.8,315.9 456.3,334.0 446.7,330.0 454.2,311.9 449.1,309.8" fill="#ff0000"/><polygon points="467.5,294.3 478.2,313.9 472.7,313.9 472.7,333.5 462.3,333.5 462.3,313.9 456.8,313.9" fill="#ff0000"/><polygon points="476.1,303.8 486.8,323.4 481.3,323.4 481.3,343.0 470.9,343.0 470.9,323.4 465.4,323.4" fill="#ff0000"/><polygon points="477.1,333.7 494.5,347.7 489.4,349.8 496.9,367.9 487.3,371.9 479.8,353.8 474.7,355.9" fill="#ff0000"/><polygon points="493.2,332.2 503.9,351.8 498.4,351.8 498.4,371.4 488.0,371.4 488.0,351.8 482.5,351.8" fill="#ff0000"/><polygon points="501.7,332.2 512.4,351.8 506.9,351.8 506.9,371.4 496.5,371.4 496.5,351.8 491.0,351.8" fill="#ff0000"/><polygon points="510.2,332.2 521.0,351.8 515.5,351.8 515.5,371.4 505.1,371.4 505.1,351.8 499.6,351.8" fill="#ff0000"/><polygon points="518.8,303.8 529.5,323.4 524.0,323.4 524.0,343.0 513.6,343.0 513.6,323.4 508.1,323.4" fill="#ff0000"/><polygon points="534.8,295.8 537.2,318.0 532.1,315.9 524.6,334.0 515.0,330.0 522.5,311.9 517.5,309.8" fill="#ff0000"/><polygon points="543.4,286.4 545.8,308.6 540.7,306.5 533.2,324.6 523.6,320.6 531.1,302.5 526.0,300.4" fill="#ff0000"/><polygon points="551.9,286.4 554.3,308.6 549.2,306.5 541.7,324.6 532.1,320.6 539.6,302.5 534.5,300.4" fill="#ff0000"/><polygon points="560.5,276.9 562.9,299.1 557.8,297.0 550.3,315.1 540.7,311.1 548.2,293.0 543.1,290.9" fill="#ffff00"/><polygon points="569.0,258.0 571.4,280.2 566.3,278.1 558.8,296.2 549.2,292.2 556.7,274.1 551.6,272.0" fill="#ffff00"/><polygon points="570.1,247.0 580.8,266.6 575.3,266.6 575.3,286.2 564.9,286.2 564.9,266.6 559.4,266.6" fill="#ffff00"/><polygon points="578.6,237.5 589.3,257.1 583.8,257.1 583.8,276.7 573.4,276.7 573.4,257.1 567.9,257.1" fill="#ffff00"/><polygon points="587.2,237.5 597.9,257.1 592.4,257.1 592.4,276.7 582.0,276.7 582.0,257.1 576.5,257.1" fill="#ffff00"/><polygon points="595.7,265.9 606.4,285.5 600.9,285.5 600.9,305.1 590.5,305.1 590.5,285.5 585.0,285.5" fill="#ffff00"/><polygon points="604.2,275.4 614.9,295.0 609.4,295.0 609.4,314.6 599.0,314.6 599.0,295.0 593.5,295.0" fill="#ffff00"/><polygon points="612.8,284.9 623.5,304.5 618.0,304.5 618.0,324.1 607.6,324.1 607.6,304.5 602.1,304.5" fill="#ff0000"/><polygon points="613.8,295.8 631.2,309.8 626.1,311.9 633.6,330.0 624.0,334.0 616.5,315.9 611.4,318.0" fill="#ff0000"/><polygon points="622.4,295.8 639.8,309.8 634.7,311.9 642.2,330.0 632.6,334.0 625.1,315.9 620.0,318.0" fill="#ff0000"/><polygon points="630.9,295.8 648.3,309.8 643.2,311.9 650.7,330.0 641.1,334.0 633.6,315.9 628.5,318.0" fill="#ff0000"/><polygon points="639.5,295.8 656.9,309.8 651.8,311.9 659.3,330.0 649.7,334.0 642.2,315.9 637.1,318.0" fill="#ff0000"/><polygon points="648.0,276.9 665.4,290.9 660.3,293.0 667.8,311.1 658.2,315.1 650.7,297.0 645.6,299.1" fill="#ffff00"/><polygon points="656.6,276.9 673.9,290.9 668.9,293.0 676.4,311.1 666.8,315.1 659.3,297.0 654.2,299.1" fill="#ffff00"/><polygon points="658.7,281.1 680.2,287.4 676.3,291.3 690.1,305.2 682.8,312.5 668.9,298.7 665.0,302.6" fill="#ffff00"/><polygon points="667.3,290.6 688.7,296.9 684.8,300.8 698.7,314.6 691.3,322.0 677.5,308.1 673.6,312.0" fill="#ff0000"/><polygon points="675.8,290.6 697.3,296.9 693.4,300.8 707.2,314.6 699.9,322.0 686.0,308.1 682.1,312.0" fill="#ff0000"/><polygon points="684.4,290.6 705.8,296.9 701.9,300.8 715.8,314.6 708.4,322.0 694.6,308.1 690.7,312.0" fill="#ff0000"/><polygon points="699.3,276.9 716.7,290.9 711.6,293.0 719.1,311.1 709.5,315.1 702.0,297.0 696.9,299.1" fill="#ffff00"/><polygon points="707.8,276.9 725.2,290.9 720.1,293.0 727.6,311.1 718.0,315.1 710.5,297.0 705.4,299.1" fill="#ffff00"/><polygon points="716.4,267.4 733.8,281.4 728.7,283.5 736.2,301.6 726.6,305.6 719.1,287.5 714.0,289.6" fill="#ffff00"/><polygon points="724.9,286.4 742.3,300.4 737.2,302.5 744.7,320.6 735.1,324.6 727.6,306.5 722.5,308.6" fill="#ff0000"/><polygon points="733.5,286.4 750.9,300.4 745.8,302.5 753.3,320.6 743.7,324.6 736.2,306.5 731.1,308.6" fill="#ff0000"/><polygon points="735.7,290.6 757.1,296.9 753.2,300.8 767.0,314.6 759.7,322.0 745.8,308.1 741.9,312.0" fill="#ff0000"/><polygon points="744.2,300.1 765.6,306.4 761.7,310.3 775.6,324.1 768.2,331.5 754.4,317.6 750.5,321.5" fill="#ff0000"/><polygon points="752.7,309.5 774.2,315.8 770.3,319.7 784.1,333.6 776.8,340.9 762.9,327.1 759.0,331.0" fill="#ff0000"/><polygon points="757.0,315.9 779.2,313.5 777.1,318.6 795.2,326.1 791.3,335.7 773.2,328.2 771.1,333.3" fill="#ff0000"/><polygon points="765.6,325.4 787.8,323.0 785.7,328.1 803.8,335.6 799.8,345.2 781.7,337.7 779.6,342.7" fill="#ff0000"/><polygon points="774.1,297.0 796.3,294.6 794.2,299.7 812.3,307.2 808.4,316.8 790.2,309.3 788.1,314.3" fill="#ff0000"/><polygon points="781.2,295.0 800.8,284.3 800.8,289.8 820.4,289.8 820.4,300.2 800.8,300.2 800.8,305.7" fill="#ffff00"/><polygon points="789.7,295.0 809.3,284.3 809.3,289.8 828.9,289.8 828.9,300.2 809.3,300.2 809.3,305.7" fill="#ffff00"/><polygon points="798.3,304.5 817.9,293.8 817.9,299.3 837.5,299.3 837.5,309.7 817.9,309.7 817.9,315.2" fill="#ff0000"/><polygon points="807.2,300.6 828.5,294.0 827.4,299.4 846.7,303.2 844.6,313.4 825.4,309.6 824.3,315.0" fill="#ff0000"/><polygon points="816.9,301.7 839.1,299.3 836.9,304.4 855.1,311.9 851.1,321.5 833.0,314.0 830.9,319.1" fill="#ff0000"/><polygon points="825.4,306.4 847.6,304.0 845.5,309.1 863.6,316.6 859.6,326.2 841.5,318.7 839.4,323.8" fill="#ff0000"/><polygon points="833.9,306.4 856.1,304.0 854.0,309.1 872.1,316.6 868.2,326.2 850.1,318.7 848.0,323.8" fill="#ff0000"/><polygon points="842.5,315.9 864.7,313.5 862.6,318.6 880.7,326.1 876.7,335.7 858.6,328.2 856.5,333.3" fill="#ff0000"/><polygon points="851.0,325.4 873.2,323.0 871.1,328.1 889.2,335.6 885.3,345.2 867.2,337.7 865.0,342.7" fill="#ff0000"/><polygon points="859.6,334.8 881.8,332.4 879.7,337.5 897.8,345.0 893.8,354.6 875.7,347.1 873.6,352.2" fill="#ff0000"/><polygon points="868.1,325.4 890.3,323.0 888.2,328.1 906.3,335.6 902.3,345.2 884.2,337.7 882.1,342.7" fill="#ff0000"/><polygon points="876.7,325.4 898.9,323.0 896.8,328.1 914.9,335.6 910.9,345.2 892.8,337.7 890.7,342.7" fill="#ff0000"/><polygon points="883.7,332.9 903.3,322.2 903.3,327.7 922.9,327.7 922.9,338.1 903.3,338.1 903.3,343.6" fill="#ff0000"/><polygon points="892.3,332.9 911.9,322.2 911.9,327.7 931.5,327.7 931.5,338.1 911.9,338.1 911.9,343.6" fill="#ff0000"/><polygon points="900.8,332.9 920.4,322.2 920.4,327.7 940.0,327.7 940.0,338.1 920.4,338.1 920.4,343.6" fill="#ff0000"/><polygon points="909.4,313.9 929.0,303.2 929.0,308.7 948.6,308.7 948.6,319.1 929.0,319.1 929.0,324.6" fill="#ff0000"/><polygon points="919.4,321.4 933.4,304.0 935.5,309.1 953.6,301.6 957.6,311.2 939.5,318.7 941.6,323.8" fill="#ff0000"/><polygon points="927.9,321.4 942.0,304.0 944.1,309.1 962.2,301.6 966.1,311.2 948.0,318.7 950.1,323.8" fill="#ff0000"/><polygon points="935.0,323.4 954.6,312.7 954.6,318.2 974.2,318.2 974.2,328.6 954.6,328.6 954.6,334.1" fill="#ff0000"/><polygon points="943.5,323.4 963.1,312.7 963.1,318.2 982.7,318.2 982.7,328.6 963.1,328.6 963.1,334.1" fill="#ff0000"/><polygon points="952.5,319.6 973.8,312.9 972.7,318.3 991.9,322.1 989.9,332.3 970.7,328.5 969.6,333.9" fill="#ff0000"/><polygon points="962.1,315.9 984.3,313.5 982.2,318.6 1000.3,326.1 996.3,335.7 978.2,328.2 976.1,333.3" fill="#ff0000"/><polygon points="970.7,325.4 992.9,323.0 990.8,328.1 1008.9,335.6 1004.9,345.2 986.8,337.7 984.7,342.7" fill="#ff0000"/><polygon points="979.2,325.4 1001.4,323.0 999.3,328.1 1017.4,335.6 1013.4,345.2 995.3,337.7 993.2,342.7" fill="#ff0000"/><polygon points="987.8,344.3 1010.0,341.9 1007.8,347.0 1026.0,354.5 1022.0,364.1 1003.9,356.6 1001.8,361.7" fill="#ff0000"/><polygon points="996.3,344.3 1018.5,341.9 1016.4,347.0 1034.5,354.5 1030.5,364.1 1012.4,356.6 1010.3,361.7" fill="#ff0000"/></g>
</svg></body></html>
